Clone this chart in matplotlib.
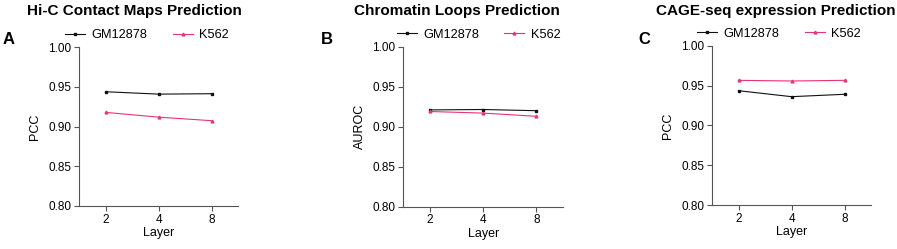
import numpy as np
from matplotlib import pyplot as plt

plt.rcParams["font.family"] = ["Liberation Sans", "DejaVu Sans"]

layers = ["2", "4", "8"]
series_names = ["GM12878", "K562"]

hic_gm = [0.944, 0.941, 0.9415]
hic_k562 = [0.918, 0.912, 0.9075]
loops_gm = [0.921, 0.9215, 0.920]
loops_k562 = [0.919, 0.917, 0.913]
cage_gm = [0.9435, 0.936, 0.939]
cage_k562 = [0.9565, 0.9557, 0.9565]

titles = ["Hi-C Contact Maps Prediction", "Chromatin Loops Prediction", "CAGE-seq expression Prediction"]
ylabels = ["PCC", "AUROC", "PCC"]
letters = ["A", "B", "C"]
panel_data = [(hic_gm, hic_k562), (loops_gm, loops_k562), (cage_gm, cage_k562)]

W, H = 897, 249
# axes boxes in pixels: left, right, top, bottom
boxes = [(79, 238, 47.3, 206), (403.3, 563, 46.7, 206.7), (712, 871, 45.7, 205)]
title_x = [134, 456.7, 776]
letter_x = [3, 321, 638]
legend_x = [0.428, 0.472, 0.421]

colors = ["#111111", "#e8337a"]
markers = ["s", "^"]
spine_col = "#555555"

fig = plt.figure(figsize=(W / 100, H / 100), dpi=100)
x = np.arange(1, len(layers) + 1)

for i in range(3):
    l, r, t, b = boxes[i]
    ax = fig.add_axes([l / W, 1 - b / H, (r - l) / W, (b - t) / H])
    for k, vals in enumerate(panel_data[i]):
        ax.plot(x, vals, color=colors[k], marker=markers[k], markersize=2.0,
                linewidth=0.8, label=series_names[k])
    ax.set_xlim(0.5, 3.5)
    ax.set_ylim(0.80, 1.00)
    ax.set_xticks(x)
    ax.set_xticklabels(layers)
    ax.set_yticks([0.80, 0.85, 0.90, 0.95, 1.00])
    ax.set_yticklabels(["%.2f" % v for v in [0.80, 0.85, 0.90, 0.95, 1.00]])
    for s in ["top", "right"]:
        ax.spines[s].set_visible(False)
    for s in ["left", "bottom"]:
        ax.spines[s].set_color(spine_col)
        ax.spines[s].set_linewidth(0.8)
    ax.tick_params(axis="both", labelsize=8.5, length=3.5, width=0.8, color=spine_col, pad=2)
    ax.set_xlabel("Layer", fontsize=9, labelpad=1)
    ax.set_ylabel(ylabels[i], fontsize=9, labelpad=5)
    ax.legend(loc="center", bbox_to_anchor=(legend_x[i], 1.075), ncol=2, frameon=False,
              fontsize=9.2, handlelength=1.57, handletextpad=0.52, columnspacing=1.96,
              borderaxespad=0, borderpad=0)
    fig.text(title_x[i] / W, 1 - 11 / H, titles[i], ha="center", va="center",
             fontsize=11, fontweight="bold")
    fig.text(letter_x[i] / W, 1 - 40 / H, letters[i], ha="left", va="center",
             fontsize=12, fontweight="bold")

plt.savefig("out.png", dpi=100)
plt.close()
